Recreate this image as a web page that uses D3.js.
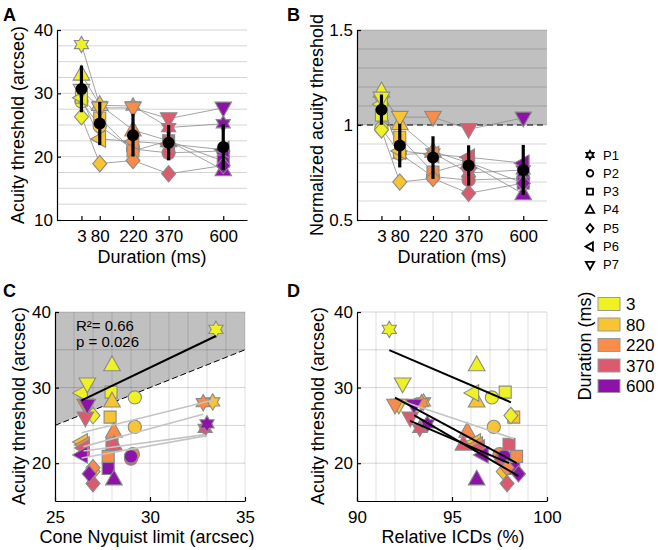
<!DOCTYPE html>
<html><head><meta charset="utf-8">
<script src="https://cdn.jsdelivr.net/npm/d3@7"></script>
<style>body{margin:0;background:#fff}svg{display:block;font-family:"Liberation Sans",Arial,sans-serif}</style>
</head><body>
<script>
// ---------------- data ----------------
const durations = [3, 80, 220, 370, 600];
const durationLabels = ['3', '80', '220', '370', '600'];
const durationColors = ['#eef223', '#f8c431', '#f88c48', '#dc5a6e', '#8c12a8'];
const participants = ['P1', 'P2', 'P3', 'P4', 'P5', 'P6', 'P7'];
const participantShapes = ['hexagram', 'circle', 'square', 'triangleUp', 'diamond', 'triangleLeft', 'triangleDown'];

// acuity threshold (arcsec), per duration 3/80/220/370/600 ms
const thrP1 = [37.7, 28.1, 28.0, 24.6, 25.2];
const thrP2 = [28.7, 24.8, 21.2, 20.6, 20.9];
const thrP3 = [29.4, 26.1, 20.9, 22.5, 19.3];
const thrP4 = [33.0, 28.2, 24.2, 22.5, 17.9];
const thrP5 = [26.3, 18.9, 19.4, 17.3, 18.6];
const thrP6 = [29.3, 22.8, 22.4, 22.0, 21.1];
const thrP7 = [30.5, 27.7, 27.7, 26.0, 27.7];

// cone Nyquist limit (arcsec)
const nyqP1 = [33.47, 33.3, 32.8, 32.9, 33.0];
const nyqP2 = [29.2, 29.2, 29.1, 29.0, 29.0];
const nyqP3 = [27.95, 27.9, 27.8, 28.0, 27.8];
const nyqP4 = [28.0, 28.0, 28.1, 28.1, 28.1];
const nyqP5 = [27.0, 27.0, 27.0, 27.0, 26.8];
const nyqP6 = [26.4, 26.4, 26.5, 26.5, 26.4];
const nyqP7 = [26.7, 26.6, 26.6, 26.6, 26.7];

// relative ICDs (%)
const icdP1 = [91.7, 93.5, 93.4, 93.3, 93.7];
const icdP2 = [97.1, 97.2, 97.5, 97.6, 97.75];
const icdP3 = [97.8, 98.25, 98.4, 98.0, 98.25];
const icdP4 = [96.3, 96.3, 95.8, 95.6, 96.3];
const icdP5 = [98.1, 97.7, 97.9, 97.9, 98.5];
const icdP6 = [96.1, 96.2, 96.3, 96.4, 96.6];
const icdP7 = [92.4, 92.2, 92.0, 92.8, 93.0];

const fitColorsC = ['#000000', '#c4c4c4', '#c4c4c4', '#c4c4c4', '#c4c4c4'];
const fitColorsD = ['#000000', '#c4c4c4', '#000000', '#000000', '#000000'];
const statR2 = '0.66';
const statP = '0.026';

const yTicksA = [10, 20, 30, 40];
const yTicksB = [0.5, 1, 1.5];
const xTicksC = [25, 30, 35];
const xTicksD = [90, 95, 100];
const yTicksCD = [20, 30, 40];

// ---------------- build table ----------------
const thr = [thrP1, thrP2, thrP3, thrP4, thrP5, thrP6, thrP7];
const nyq = [nyqP1, nyqP2, nyqP3, nyqP4, nyqP5, nyqP6, nyqP7];
const icd = [icdP1, icdP2, icdP3, icdP4, icdP5, icdP6, icdP7];
const rows = [];
participants.forEach((p, i) => durations.forEach((d, j) => rows.push({
  p: i, d: j, dur: d, thr: thr[i][j], nyq: nyq[i][j], icd: icd[i][j], norm: thr[i][j] / nyq[i][j]
})));

// ---------------- helpers ----------------
function shapePath(name, s) {
  const pts = [];
  if (name === 'circle') {
    const r = 6.6 * s;
    return `M${r},0A${r},${r} 0 1,1 ${-r},0A${r},${r} 0 1,1 ${r},0Z`;
  }
  if (name === 'square') { const h = 6 * s; pts.push([-h,-h],[h,-h],[h,h],[-h,h]); }
  if (name === 'diamond') { pts.push([0,-8.2*s],[7*s,0],[0,8.2*s],[-7*s,0]); }
  if (name === 'triangleUp') { pts.push([0,-9*s],[8.3*s,5.8*s],[-8.3*s,5.8*s]); }
  if (name === 'triangleDown') { pts.push([0,9*s],[8.3*s,-5.8*s],[-8.3*s,-5.8*s]); }
  if (name === 'triangleLeft') { pts.push([-9*s,0],[5.8*s,-8.3*s],[5.8*s,8.3*s]); }
  if (name === 'hexagram') {
    const R = 8.2 * s, r = R / Math.sqrt(3);
    for (let k = 0; k < 12; k++) {
      const a = (-90 + k * 30) * Math.PI / 180;
      const rr = k % 2 === 0 ? R : r;
      pts.push([rr * Math.cos(a), rr * Math.sin(a)]);
    }
  }
  return 'M' + pts.map(q => q[0].toFixed(2) + ',' + q[1].toFixed(2)).join('L') + 'Z';
}

const svg = d3.select('body').append('svg').attr('width', 660).attr('height', 550);
const FONT_TICK = 17, FONT_TITLE = 18;

function styleAxis(g) {
  g.select('.domain').attr('stroke', '#000').attr('stroke-width', 1.2);
  g.selectAll('.tick line').attr('stroke', '#000').attr('stroke-width', 1.2);
  g.selectAll('.tick text').attr('font-size', FONT_TICK).attr('fill', '#000')
    .attr('font-family', '"Liberation Sans",Arial,sans-serif');
}

function axes(x, y, xTicks, yTicks, yFmt) {
  const y0 = y.range()[0], x0 = x.range()[0];
  svg.append('g').attr('transform', `translate(0,${y0})`)
    .call(d3.axisBottom(x).tickValues(xTicks).tickSize(-4).tickSizeOuter(0).tickPadding(10)
      .tickFormat(d3.format('d'))).call(styleAxis);
  svg.append('g').attr('transform', `translate(${x0},0)`)
    .call(d3.axisLeft(y).tickValues(yTicks).tickSize(-4).tickSizeOuter(0).tickPadding(4)
      .tickFormat(yFmt || d3.format('d'))).call(styleAxis);
}

function title(x, y, text, rot) {
  const t = svg.append('text').attr('font-size', FONT_TITLE).attr('text-anchor', 'middle').attr('fill', '#000').text(text);
  if (rot) t.attr('transform', `translate(${x},${y}) rotate(-90)`);
  else t.attr('x', x).attr('y', y);
}

function panelLetter(x, y, s) {
  svg.append('text').attr('x', x).attr('y', y).attr('font-size', 18).attr('font-weight', 'bold').text(s);
}

function hGrid(x, y, vals) {
  svg.append('g').selectAll('line').data(vals).join('line')
    .attr('x1', x.range()[0]).attr('x2', x.range()[1])
    .attr('y1', d => y(d)).attr('y2', d => y(d))
    .attr('stroke', 'rgba(0,0,0,0.17)').attr('stroke-width', 1);
}
function vGrid(x, y, vals) {
  svg.append('g').selectAll('line').data(vals).join('line')
    .attr('y1', y.range()[0]).attr('y2', y.range()[1])
    .attr('x1', d => x(d)).attr('x2', d => x(d))
    .attr('stroke', 'rgba(0,0,0,0.12)').attr('stroke-width', 1);
}

function markers(x, y, xKey, yKey) {
  const g = svg.append('g');
  g.selectAll('path').data(rows).join('path')
    .attr('d', r => shapePath(participantShapes[r.p], 1))
    .attr('transform', r => `translate(${x(r[xKey])},${y(r[yKey])})`)
    .attr('fill', r => durationColors[r.d])
    .attr('stroke', '#8a8a8a').attr('stroke-width', 1.1);
}

function durationPanel(x, y, key) {
  const line = d3.line().x(r => x(r.dur)).y(r => y(r[key]));
  participants.forEach((p, i) => {
    svg.append('path').datum(rows.filter(r => r.p === i)).attr('d', line)
      .attr('fill', 'none').attr('stroke', '#8c8c8c').attr('stroke-width', 0.8);
  });
  markers(x, y, 'dur', key);
  durations.forEach((d, j) => {
    const vals = rows.filter(r => r.d === j).map(r => r[key]);
    const m = d3.mean(vals), sd = d3.deviation(vals);
    svg.append('line').attr('x1', x(d)).attr('x2', x(d)).attr('y1', y(m - sd)).attr('y2', y(m + sd))
      .attr('stroke', '#000').attr('stroke-width', 3.2);
    svg.append('circle').attr('cx', x(d)).attr('cy', y(m)).attr('r', 6).attr('fill', '#000');
  });
}

function fitLines(x, y, xKey, colors) {
  durations.forEach((d, j) => {
    const pts = rows.filter(r => r.d === j);
    const mx = d3.mean(pts, r => r[xKey]), my = d3.mean(pts, r => r.thr);
    const sxy = d3.sum(pts, r => (r[xKey] - mx) * (r.thr - my));
    const sxx = d3.sum(pts, r => (r[xKey] - mx) ** 2);
    const b = sxy / sxx, a = my - b * mx;
    const [x1, x2] = d3.extent(pts, r => r[xKey]);
    svg.append('line').attr('x1', x(x1)).attr('x2', x(x2)).attr('y1', y(a + b * x1)).attr('y2', y(a + b * x2))
      .attr('stroke', colors[j]).attr('stroke-width', colors[j] === '#000000' ? 2 : 1.6);
  });
}

// ---------------- Panel A ----------------
const xA = d3.scaleLinear().domain([-100, 700]).range([57, 247]);
const yA = d3.scaleLinear().domain([10, 40]).range([220, 30]);
hGrid(xA, yA, d3.range(12.5, 40.01, 2.5));
durationPanel(xA, yA, 'thr');
axes(xA, yA, durations, yTicksA);
title(152, 263, 'Duration (ms)');
title(24, 125, 'Acuity threshold (arcsec)', true);
panelLetter(3, 21, 'A');

// ---------------- Panel B ----------------
const xB = d3.scaleLinear().domain([-100, 700]).range([357, 547]);
const yB = d3.scaleLinear().domain([0.5, 1.5]).range([220, 30]);
svg.append('rect').attr('x', xB.range()[0]).attr('y', yB(1.5)).attr('width', xB.range()[1] - xB.range()[0])
  .attr('height', yB(1) - yB(1.5)).attr('fill', '#c0c0c0');
hGrid(xB, yB, d3.range(6, 15.01, 1).map(v => v / 10));
svg.append('line').attr('x1', xB.range()[0]).attr('x2', xB.range()[1]).attr('y1', yB(1)).attr('y2', yB(1))
  .attr('stroke', '#000').attr('stroke-width', 1.2).attr('stroke-dasharray', '6,4');
durationPanel(xB, yB, 'norm');
axes(xB, yB, durations, yTicksB, d => String(d));
title(452, 263, 'Duration (ms)');
title(323, 125, 'Normalized acuity threshold', true);
panelLetter(287, 21, 'B');

// shape legend
participants.forEach((p, i) => {
  const yy = 155 + i * 18.3;
  svg.append('path').attr('d', shapePath(participantShapes[i], 0.5)).attr('transform', `translate(590,${yy})`)
    .attr('fill', '#fff').attr('stroke', '#000').attr('stroke-width', 1.8);
  svg.append('text').attr('x', 603).attr('y', yy + 4.5).attr('font-size', 13).text(p);
});

// ---------------- Panel C ----------------
const xC = d3.scaleLinear().domain([25, 35]).range([55, 245]);
const yC = d3.scaleLinear().domain([15, 40]).range([501, 312]);
svg.append('path').datum([[25, 25], [35, 35], [35, 40], [25, 40]])
  .attr('d', d => 'M' + d.map(q => xC(q[0]) + ',' + yC(q[1])).join('L') + 'Z').attr('fill', '#c0c0c0');
vGrid(xC, yC, d3.range(26, 35.01, 1));
hGrid(xC, yC, [20, 25, 30, 35, 40]);
svg.append('line').attr('x1', xC(25)).attr('y1', yC(25)).attr('x2', xC(35)).attr('y2', yC(35))
  .attr('stroke', '#000').attr('stroke-width', 1).attr('stroke-dasharray', '6,3');
markers(xC, yC, 'nyq', 'thr');
fitLines(xC, yC, 'nyq', fitColorsC);
axes(xC, yC, xTicksC, yTicksCD);
title(147, 543, 'Cone Nyquist limit (arcsec)');
title(25, 406, 'Acuity threshold (arcsec)', true);
panelLetter(3, 297, 'C');
svg.append('text').attr('x', 76).attr('y', 331).attr('font-size', 15).text('R\u00B2= ' + statR2);
svg.append('text').attr('x', 76).attr('y', 347).attr('font-size', 15).text('p = ' + statP);

// ---------------- Panel D ----------------
const xD = d3.scaleLinear().domain([90, 100]).range([357, 547]);
const yD = d3.scaleLinear().domain([15, 40]).range([501, 312]);
vGrid(xD, yD, d3.range(91, 100.01, 1));
hGrid(xD, yD, [20, 25, 30, 35, 40]);
markers(xD, yD, 'icd', 'thr');
fitLines(xD, yD, 'icd', fitColorsD);
axes(xD, yD, xTicksD, yTicksCD);
title(453, 543, 'Relative ICDs (%)');
title(324, 406, 'Acuity threshold (arcsec)', true);
panelLetter(287, 297, 'D');

// duration colour legend
durations.forEach((d, j) => {
  const yy = 304 + j * 20.5;
  svg.append('rect').attr('x', 598).attr('y', yy - 6.5).attr('width', 22).attr('height', 13)
    .attr('fill', durationColors[j]).attr('stroke', '#9a9a9a').attr('stroke-width', 1);
  svg.append('text').attr('x', 626).attr('y', yy + 6).attr('font-size', 17).text(durationLabels[j]);
});
title(591, 346, 'Duration (ms)', true);
</script>
</body></html>
